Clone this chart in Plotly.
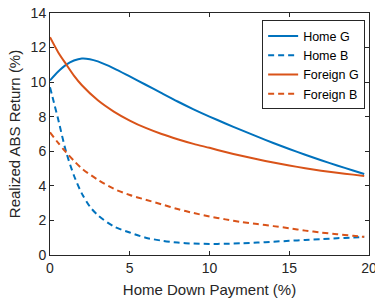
import plotly.graph_objects as go

x_home_g = [0, 0.5, 1, 1.5, 2, 2.5, 3, 4, 5, 6, 7, 8, 9, 10, 11, 12, 13, 14, 15, 16, 17, 18, 19, 19.7]
home_g = [10.1, 10.6, 11.0, 11.25, 11.37, 11.33, 11.2, 10.8, 10.33, 9.85, 9.36, 8.88, 8.43, 8.01,
          7.61, 7.22, 6.85, 6.48, 6.13, 5.8, 5.48, 5.18, 4.89, 4.69]

x_home_b = [0, 0.25, 0.5, 1, 1.5, 2, 2.5, 3, 4, 5, 6, 7, 8, 9, 10, 11, 12, 13, 14, 15, 16, 17, 18, 19, 19.7]
home_b = [9.7, 8.8, 7.9, 6.0, 4.6, 3.55, 2.8, 2.3, 1.65, 1.3, 1.0, 0.83, 0.72, 0.66, 0.64,
          0.65, 0.68, 0.72, 0.77, 0.82, 0.87, 0.92, 0.97, 1.01, 1.05]

x_foreign_g = [0, 0.5, 1, 1.5, 2, 3, 4, 5, 6, 7, 8, 9, 10, 11, 12, 13, 14, 15, 16, 17, 18, 19, 19.7]
foreign_g = [12.6, 11.75, 11.05, 10.38, 9.82, 8.95, 8.3, 7.78, 7.35, 7.0, 6.7, 6.43, 6.2,
             5.96, 5.74, 5.54, 5.35, 5.18, 5.02, 4.88, 4.76, 4.65, 4.57]

x_foreign_b = [0, 0.5, 1, 1.5, 2, 3, 4, 5, 6, 7, 8, 9, 10, 11, 12, 13, 14, 15, 16, 17, 18, 19, 19.7]
foreign_b = [7.1, 6.5, 5.95, 5.45, 5.0, 4.35, 3.83, 3.47, 3.2, 2.93, 2.66, 2.43, 2.23,
             2.06, 1.91, 1.79, 1.67, 1.55, 1.41, 1.3, 1.2, 1.11, 1.05]

x_ticks = [0, 5, 10, 15, 20]
y_ticks = [0, 2, 4, 6, 8, 10, 12, 14]

BLUE = "#0072BD"
ORANGE = "#D95319"
AX = "#262626"
DASH = "6px,4px"
FONT = "Liberation Sans, Arial"

fig = go.Figure()
fig.add_trace(go.Scatter(x=x_home_g, y=home_g, mode="lines", name="Home G",
                         line=dict(color=BLUE, width=2, shape="spline", smoothing=0.8)))
fig.add_trace(go.Scatter(x=x_home_b, y=home_b, mode="lines", name="Home B",
                         line=dict(color=BLUE, width=2, dash=DASH, shape="spline", smoothing=0.8)))
fig.add_trace(go.Scatter(x=x_foreign_g, y=foreign_g, mode="lines", name="Foreign G",
                         line=dict(color=ORANGE, width=2, shape="spline", smoothing=0.8)))
fig.add_trace(go.Scatter(x=x_foreign_b, y=foreign_b, mode="lines", name="Foreign B",
                         line=dict(color=ORANGE, width=2, dash=DASH, shape="spline", smoothing=0.8)))

axis_common = dict(showgrid=False, zeroline=False, showline=True, linecolor=AX, linewidth=1,
                   mirror="ticks", ticks="inside", ticklen=4, tickcolor=AX, tickwidth=1,
                   automargin=False, ticklabeloverflow="allow",
                   tickfont=dict(family=FONT, size=14, color=AX))

fig.update_xaxes(range=[0, 20], tickvals=x_ticks, ticktext=[str(v) for v in x_ticks],
                 title=dict(text="Home Down Payment (%)", standoff=9,
                            font=dict(family=FONT, size=15, color=AX)),
                 **axis_common)
fig.update_yaxes(range=[0, 14], tickvals=y_ticks, ticktext=[str(v) for v in y_ticks],
                 title=dict(text="Realized ABS Return (%)", standoff=6,
                            font=dict(family=FONT, size=15, color=AX)),
                 **axis_common)

fig.update_layout(
    width=375, height=300,
    margin=dict(l=50, r=6, t=13, b=45),
    paper_bgcolor="white", plot_bgcolor="white",
    showlegend=True,
    legend=dict(x=0.665, y=0.97, xanchor="left", yanchor="top",
                bgcolor="white", bordercolor=AX, borderwidth=1,
                font=dict(family=FONT, size=12.5, color="black"),
                itemwidth=30, tracegroupgap=0),
)

fig.write_html("out.html", config={"displayModeBar": False},
               post_script="document.body.style.margin='0';document.body.style.overflow='hidden';")
